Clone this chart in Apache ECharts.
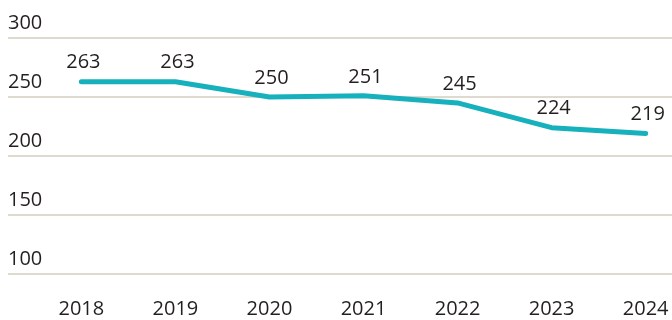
<!DOCTYPE html>
<html>
<head>
<meta charset="utf-8">
<script src="https://cdn.jsdelivr.net/npm/echarts@6/dist/echarts.min.js"></script>
<style>
  html, body { margin: 0; padding: 0; background: #ffffff; }
  #chart { width: 672px; height: 320px; }
</style>
</head>
<body>
<div id="chart"></div>
<script>
// Years along the horizontal axis and the yearly totals
const years = [2018, 2019, 2020, 2021, 2022, 2023, 2024];
const totals = [263, 263, 250, 251, 245, 224, 219];
const yTicks = [100, 150, 200, 250, 300];

const FONT = '"Open Sans", "Noto Sans", sans-serif';
const TEXT = '#231f20';
const SIZE = 20;

const chart = echarts.init(document.getElementById('chart'), null, { renderer: 'canvas' });

chart.setOption({
  animation: false,
  grid: { left: 8, right: 0, top: 38, bottom: 46, containLabel: false },
  xAxis: {
    type: 'value',
    min: 2017.22,
    max: 2024.28,
    splitLine: { show: false },
    axisLine: { show: false },
    axisTick: { show: false },
    axisLabel: {
      customValues: years,
      formatter: v => String(v),
      color: TEXT,
      fontFamily: FONT,
      fontSize: SIZE,
      margin: 25
    }
  },
  yAxis: {
    type: 'value',
    min: yTicks[0],
    max: yTicks[yTicks.length - 1],
    interval: 50,
    axisLine: { show: false },
    axisTick: { show: false },
    splitLine: { lineStyle: { color: '#dfdad0', width: 2 } },
    axisLabel: {
      inside: true,
      margin: 0,
      align: 'left',
      verticalAlign: 'bottom',
      padding: [0, 0, 5, 0],
      color: TEXT,
      fontFamily: FONT,
      fontSize: SIZE
    }
  },
  series: [{
    type: 'line',
    data: years.map((y, i) => [y, totals[i]]),
    symbol: 'circle',
    showSymbol: true,
    symbolSize: 0,
    itemStyle: { color: '#17b0bd' },
    lineStyle: { color: '#17b0bd', width: 5, cap: 'round', join: 'round' },
    label: {
      show: true,
      position: 'top',
      distance: 9,
      offset: [2, 0],
      formatter: p => String(p.value[1]),
      color: TEXT,
      fontFamily: FONT,
      fontSize: SIZE
    },
    z: 3
  }]
});
</script>
</body>
</html>
